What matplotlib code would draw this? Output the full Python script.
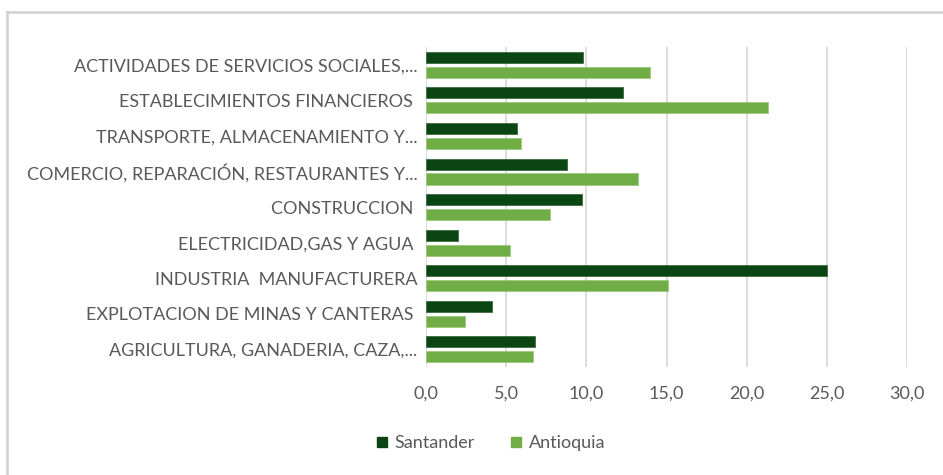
import matplotlib
matplotlib.use("Agg")
import matplotlib.pyplot as plt
import numpy as np
from matplotlib.lines import Line2D

# categorias de abajo hacia arriba
categorias = [
    "AGRICULTURA, GANADERIA, CAZA,...",
    "EXPLOTACION DE MINAS Y CANTERAS ",
    "INDUSTRIA  MANUFACTURERA",
    "ELECTRICIDAD,GAS Y AGUA ",
    "CONSTRUCCION ",
    "COMERCIO, REPARACIÓN, RESTAURANTES Y...",
    "TRANSPORTE, ALMACENAMIENTO Y...",
    "ESTABLECIMIENTOS FINANCIEROS ",
    "ACTIVIDADES DE SERVICIOS SOCIALES,...",
]
santander = [6.8, 4.1, 25.0, 2.0, 9.7, 8.8, 5.7, 12.3, 9.8]
antioquia = [6.65, 2.4, 15.1, 5.25, 7.75, 13.2, 5.9, 21.3, 14.0]
ticks = [0, 5, 10, 15, 20, 25, 30]

plt.rcParams['font.family'] = ['Lato', 'DejaVu Sans']

fig = plt.figure(figsize=(9.43, 4.75), dpi=100)
ax = fig.add_axes([0.4518, 0.227, 0.51, 0.674])

y = np.arange(len(categorias))
alto = 0.31
ax.barh(y + 0.21, santander, height=alto, color="#0B4514", edgecolor="#3d6e40", linewidth=0.6,
        label="Santander", zorder=3)
ax.barh(y - 0.21, antioquia, height=alto, color="#70AD47", edgecolor="#9ccb7c", linewidth=0.6,
        label="Antioquia", zorder=3)

ax.set_xlim(0, 30)
ax.set_ylim(-0.5, len(categorias) - 0.5)
ax.set_xticks(ticks)
ax.set_xticklabels([("%.1f" % t).replace(".", ",") for t in ticks])
ax.set_yticks(y)
ax.set_yticklabels(categorias)
ax.tick_params(axis="both", length=0, colors="#595959", labelsize=13)
ax.tick_params(axis="x", pad=13)
ax.tick_params(axis="y", pad=6)
ax.grid(axis="x", color="#D9D9D9", linewidth=1.3, zorder=0)
for s in ax.spines.values():
    s.set_visible(False)

# leyenda
hs = [Line2D([], [], marker="s", linestyle="none", color="#0B4514", markersize=7),
      Line2D([], [], marker="s", linestyle="none", color="#70AD47", markersize=7)]
fig.legend(hs, ["Santander", "Antioquia"], loc="center", bbox_to_anchor=(0.514, 0.067),
           ncol=2, frameon=False, fontsize=13, handletextpad=-0.3, columnspacing=1.3,
           labelcolor="#595959")

# borde del grafico
fig.add_artist(Line2D([7 / 943, 1], [1 - 12 / 475] * 2, color="#D0D0D0", linewidth=1.8,
                      transform=fig.transFigure))
fig.add_artist(Line2D([7 / 943] * 2, [0, 1 - 12 / 475], color="#D0D0D0", linewidth=1.8,
                      transform=fig.transFigure))

fig.savefig("out.png", dpi=100)
